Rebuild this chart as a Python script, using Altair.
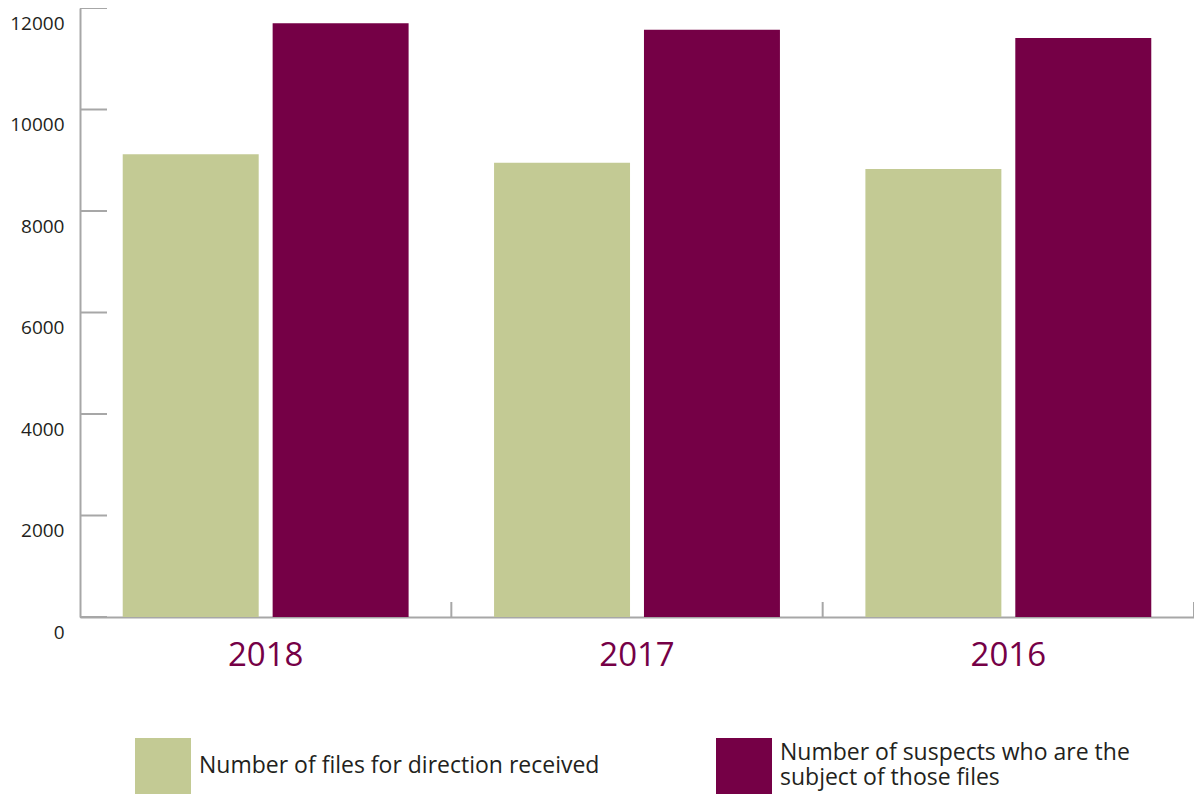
import altair as alt
import pandas as pd

years = ["2018", "2017", "2016"]
files_received = [9120, 8950, 8830]
suspects = [11700, 11570, 11410]
series_names = ["Number of files for direction received",
                "Number of suspects who are the subject of those files"]
series_colors = ["#c3ca94", "#750046"]
y_ticks = [0, 2000, 4000, 6000, 8000, 10000, 12000]

rows = []
for i, yr in enumerate(years):
    rows.append({"year": yr, "series": series_names[0], "value": files_received[i]})
    rows.append({"year": yr, "series": series_names[1], "value": suspects[i]})
df = pd.DataFrame(rows)
ticks_df = pd.DataFrame({"t": y_ticks})
years_df = pd.DataFrame({"year": years})

FONT = "Open Sans"
GRAY = "#a7a7a7"
TEXT = "#231f20"
PURPLE = "#750046"

W, H = 1114, 609

x_enc = alt.X("year:N", sort=years,
              scale=alt.Scale(paddingInner=0, paddingOuter=0),
              axis=alt.Axis(title=None, ticks=False, domainColor=GRAY, domainWidth=2,
                            labelColor=PURPLE, labelFontSize=33, labelFont=FONT,
                            labelPadding=22, labelAngle=0))

y_scale = alt.Scale(domain=[0, 12000], nice=False)
y_enc = alt.Y("value:Q", scale=y_scale,
              axis=alt.Axis(title=None, values=y_ticks, ticks=False, grid=False,
                            format="d", domainColor=GRAY, domainWidth=2, labelFont=FONT,
                            labelFontSize=19, labelColor=TEXT, labelBaseline="top",
                            labelOffset=6, labelPadding=16))
xoff_enc = alt.XOffset("series:N",
                       scale=alt.Scale(domain=series_names, paddingInner=0.093,
                                       paddingOuter=0.285))


def legend_for(x, baseline):
    return alt.Legend(
        title=None, orient="none", legendX=x, legendY=730,
        direction="horizontal",
        symbolType="square", symbolSize=3136, symbolStrokeWidth=0,
        labelFont=FONT, labelFontSize=23, labelColor=TEXT,
        labelLimit=700, labelOffset=8, padding=0, labelBaseline=baseline,
        labelExpr="datum.label == 'Number of suspects who are the subject of those files' ? ['Number of suspects who are the', 'subject of those files'] : datum.label")


bars_a = alt.Chart(df).transform_filter(
    alt.datum.series == series_names[0]
).mark_bar().encode(
    x=x_enc, xOffset=xoff_enc, y=y_enc,
    color=alt.Color("series:N",
                    scale=alt.Scale(domain=[series_names[0]], range=[series_colors[0]]),
                    legend=legend_for(55, "middle")),
)

bars_b = alt.Chart(df).transform_filter(
    alt.datum.series == series_names[1]
).mark_bar().encode(
    x=x_enc, xOffset=xoff_enc, y=y_enc,
    color=alt.Color("series:N",
                    scale=alt.Scale(domain=[series_names[1]], range=[series_colors[1]]),
                    legend=legend_for(636, "line-bottom")),
)

yticks = alt.Chart(ticks_df).mark_rule(color=GRAY, strokeWidth=2).encode(
    y=alt.Y("t:Q", scale=y_scale),
    x=alt.value(0), x2=alt.value(27),
)

xticks = alt.Chart(years_df).mark_rule(color=GRAY, strokeWidth=2).encode(
    x=alt.X("year:N", sort=years, bandPosition=1),
    y=alt.value(H - 15), y2=alt.value(H),
)

chart = alt.layer(bars_a, bars_b, yticks, xticks).resolve_scale(
    color="independent"
).resolve_legend(color="independent").properties(
    width=W, height=H,
    autosize=alt.AutoSizeParams(type="none"),
    padding={"left": 72, "top": 0, "right": 0, "bottom": 177},
).configure_view(stroke=None)

chart.save("out.html", embed_options={"renderer": "svg", "actions": False})
